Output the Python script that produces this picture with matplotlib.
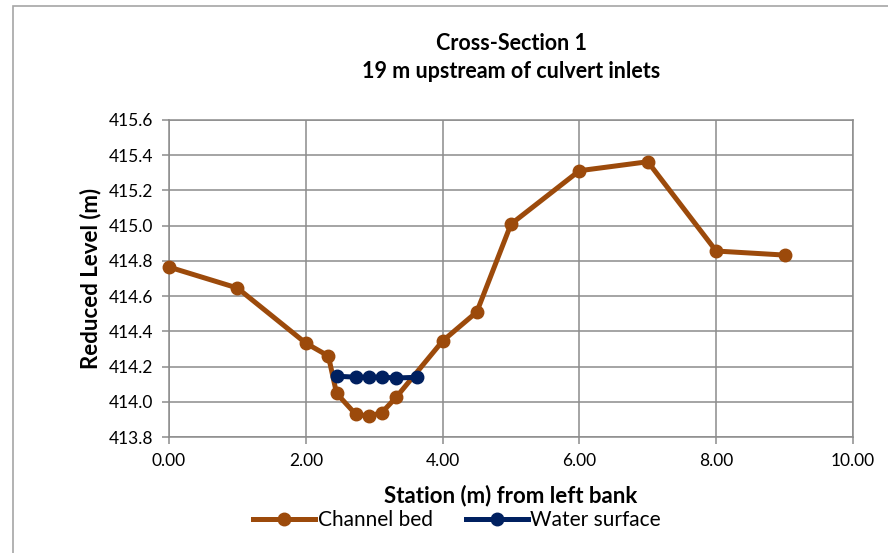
import matplotlib
matplotlib.use("Agg")
import matplotlib.pyplot as plt
from matplotlib.patches import Rectangle

plt.rcParams['font.family'] = ['Lato', 'DejaVu Sans']

# channel bed survey
bed_x = [0.0, 1.0, 2.0, 2.33, 2.45, 2.73, 2.92, 3.11, 3.32, 4.0, 4.5, 5.0, 6.0, 7.0, 8.0, 9.0]
bed_y = [414.765, 414.646, 414.333, 414.26, 414.048, 413.929, 413.919, 413.938, 414.025,
         414.345, 414.51, 415.009, 415.312, 415.363, 414.856, 414.833]

# water surface
ws_x = [2.45, 2.73, 2.92, 3.11, 3.32, 3.62]
ws_y = [414.145, 414.14, 414.14, 414.14, 414.135, 414.139]

x_ticks = [0, 2, 4, 6, 8, 10]
y_ticks = [413.8, 414.0, 414.2, 414.4, 414.6, 414.8, 415.0, 415.2, 415.4, 415.6]

brown = '#9C4A0B'
navy = '#002060'
grid_col = '#8C8C8C'

fig = plt.figure(figsize=(8.88, 5.53), dpi=100)
ax = fig.add_axes([169 / 888, 1 - 437 / 553, (853 - 169) / 888, (437 - 120) / 553])

# outer chart border
fig.patches.append(Rectangle((13 / 888, -0.05), 1.0, 1 - 6 / 553 + 0.05, transform=fig.transFigure,
                             fill=False, edgecolor='#A6A6A6', linewidth=1.2))

ax.plot(bed_x, bed_y, color=brown, linewidth=3.6, marker='o', markersize=9, label='Channel bed',
        zorder=3, clip_on=False)
ax.plot(ws_x, ws_y, color=navy, linewidth=3.6, marker='o', markersize=9, label='Water surface',
        zorder=4, clip_on=False)

ax.set_xlim(0, 10)
ax.set_ylim(413.8, 415.6)
ax.set_xticks(x_ticks)
ax.set_xticklabels([f'{v:.2f}' for v in x_ticks])
ax.set_yticks(y_ticks)
ax.set_yticklabels([f'{v:.1f}' for v in y_ticks])
ax.grid(True, color=grid_col, linewidth=1.1)
ax.set_axisbelow(True)
for s in ax.spines.values():
    s.set_color(grid_col)
    s.set_linewidth(1.1)
ax.tick_params(axis='both', colors=grid_col, labelcolor='black', labelsize=12.5, length=5, width=1.1)
ax.tick_params(axis='x', pad=6.5)
ax.tick_params(axis='y', pad=6.5)

ax.set_xlabel('Station (m) from left bank', fontsize=16, fontweight='bold', labelpad=11)
ax.set_ylabel('Reduced Level (m)', fontsize=16, fontweight='bold', labelpad=5)
ax.set_title('Cross-Section 1\n19 m upstream of culvert inlets', fontsize=15.5, fontweight='bold',
             pad=30, linespacing=1.45)

ax.legend(loc='center', bbox_to_anchor=(457 / 888, 1 - 520 / 553), bbox_transform=fig.transFigure,
          ncol=2, frameon=False, fontsize=15, handlelength=3, handletextpad=0.1, columnspacing=1.6,
          borderpad=0)

fig.savefig('out.png', dpi=100)
